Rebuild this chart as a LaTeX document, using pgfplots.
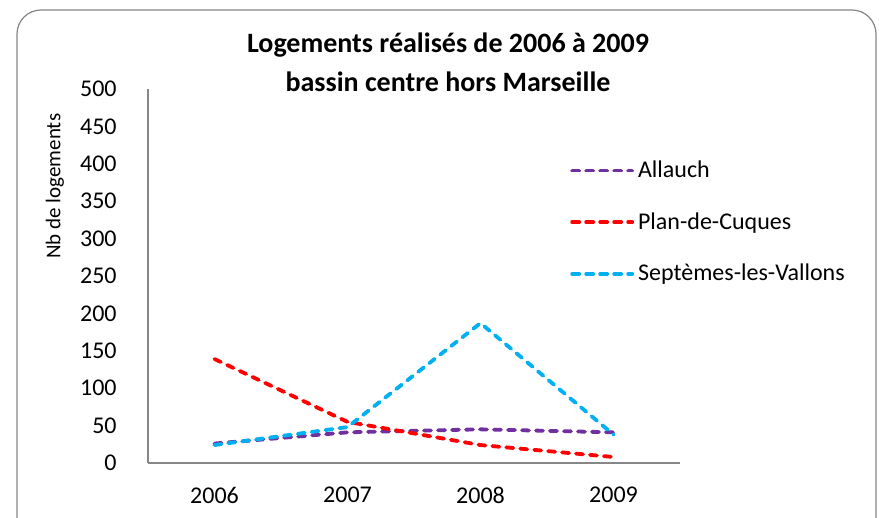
\documentclass[border=0pt]{standalone}
\usepackage{fontspec}
\setmainfont{Carlito}
\usepackage{pgfplots}
\pgfplotsset{compat=1.18}
\definecolor{cPur}{HTML}{7030A0}
\definecolor{cRed}{HTML}{FF0000}
\definecolor{cCya}{HTML}{00B0F0}
\definecolor{cAx}{HTML}{868686}
\begin{document}
\begin{tikzpicture}[x=0.5pt,y=0.5pt]
\useasboundingbox (0,0) rectangle (879,518);
\begin{scope}
\clip (0,0) rectangle (879,518);
\draw[cAx, line width=0.6pt, rounded corners=12pt] (17,-40) rectangle (876,508);
\end{scope}
\node[font=\bfseries\fontsize{14}{17}\selectfont] at (448,473) {Logements réalisés de 2006 à 2009};
\node[font=\bfseries\fontsize{14}{17}\selectfont] at (448,436) {bassin centre hors Marseille};
\begin{axis}[
  at={(74pt,27.5pt)}, anchor=south west,
  scale only axis, width=266pt, height=187pt,
  xmin=-0.5, xmax=3.5, ymin=0, ymax=500,
  xtick={0,1,2,3}, xticklabels={2006,2007,2008,2009},
  ytick={0,50,...,500},
  axis x line=bottom, axis y line=left,
  axis line style={cAx, line width=0.6pt, -},
  major tick length=0pt,
  tick label style={font=\fontsize{12}{14}\selectfont, inner sep=0pt},
  /pgf/number format/assume math mode=true,
  yticklabel style={xshift=-15.5pt},
  xticklabel style={yshift=-12pt},
  ylabel={Nb de logements},
  ylabel style={at={(axis description cs:-0.175,0.74)}, anchor=center, font=\fontsize{10.5}{12}\selectfont},
  legend style={draw=none, fill=none, at={(rel axis cs:0.793,0.82)}, anchor=north west,
    font=\fontsize{12}{14}\selectfont, row sep=12pt, inner sep=0pt},
  legend cell align=left,
  legend image code/.code={\draw[#1] (0pt,0pt) -- (30pt,0pt);},
  every axis plot/.append style={line width=1.9pt, dash pattern=on 3.5pt off 3.5pt, line cap=round},
]
\addplot[cPur] coordinates {(0,26) (1,41) (2,45) (3,41)};
\addlegendentry{Allauch}
\addplot[cRed] coordinates {(0,139) (1,55) (2,24) (3,8)};
\addlegendentry{Plan-de-Cuques}
\addplot[cCya] coordinates {(0,24) (1,48) (2,187) (3,38)};
\addlegendentry{Septèmes-les-Vallons}
\end{axis}
\end{tikzpicture}
\end{document}
